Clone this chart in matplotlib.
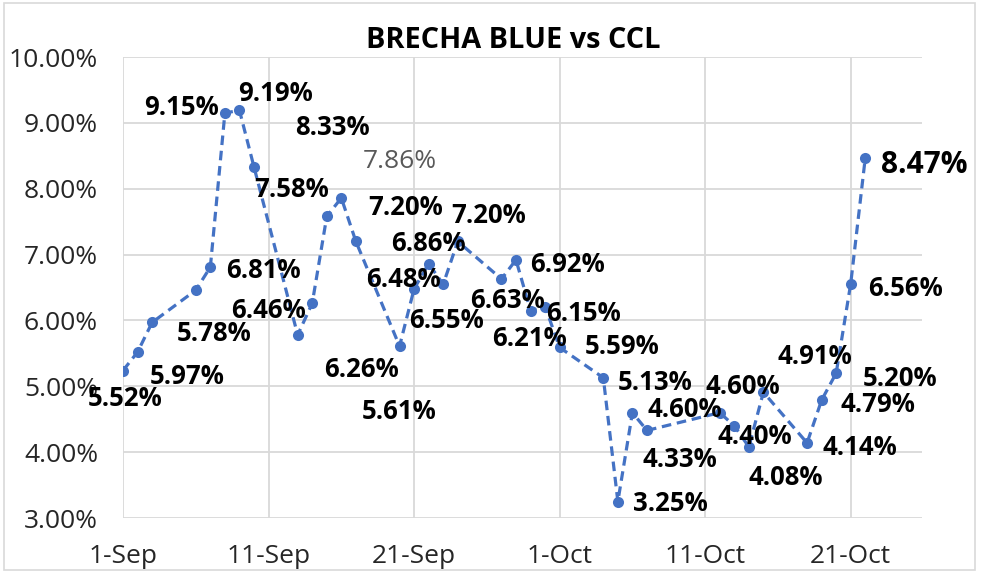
import matplotlib
matplotlib.use("Agg")
import matplotlib.pyplot as plt
import matplotlib.dates as mdates
from matplotlib.patches import Rectangle
import numpy as np

# data (2021)
dates = ["2021-09-01", "2021-09-02", "2021-09-03", "2021-09-06", "2021-09-07",
         "2021-09-08", "2021-09-09", "2021-09-10", "2021-09-13", "2021-09-14",
         "2021-09-15", "2021-09-16", "2021-09-17", "2021-09-20", "2021-09-21",
         "2021-09-22", "2021-09-23", "2021-09-24", "2021-09-27", "2021-09-28",
         "2021-09-29", "2021-09-30", "2021-10-01", "2021-10-04", "2021-10-05",
         "2021-10-06", "2021-10-07", "2021-10-12", "2021-10-13", "2021-10-14",
         "2021-10-15", "2021-10-18", "2021-10-19", "2021-10-20", "2021-10-21",
         "2021-10-22"]
brecha = [5.24, 5.52, 5.97, 6.46, 6.81, 9.15, 9.19, 8.33, 5.78, 6.26,
          7.58, 7.86, 7.20, 5.61, 6.48, 6.86, 6.55, 7.20, 6.63, 6.92,
          6.15, 6.21, 5.59, 5.13, 3.25, 4.60, 4.33, 4.60, 4.40, 4.08,
          4.91, 4.14, 4.79, 5.20, 6.56, 8.47]
labels = ["", "5.52%", "5.97%", "6.46%", "6.81%", "9.15%", "9.19%", "8.33%",
          "5.78%", "6.26%", "7.58%", "7.86%", "7.20%", "5.61%", "6.48%",
          "6.86%", "6.55%", "7.20%", "6.63%", "6.92%", "6.15%", "6.21%",
          "5.59%", "5.13%", "3.25%", "4.60%", "4.33%", "4.60%", "4.40%",
          "4.08%", "4.91%", "4.14%", "4.79%", "5.20%", "6.56%", "8.47%"]

# where each data label sits relative to its point (pixels)
label_offsets = [(0, 0), (-12, -43), (35, -51), (73, -17), (53, 0), (-43, 9),
                 (36, 20), (78, 43), (-84, 4), (49, -63), (-35, 30), (58, 39),
                 (50, 37), (0, -62), (-11, 12), (0, 23), (3, -33), (31, 29),
                 (6, -19), (52, -2), (53, 0), (-16, -29), (62, 4), (52, -2),
                 (53, 1), (52, 6), (33, -26), (23, 29), (21, -8), (37, -28),
                 (51, 39), (53, -2), (56, -1), (64, -2), (55, -2), (59, -4)]

x = mdates.datestr2num(dates)

fig = plt.figure(figsize=(9.81, 5.75), dpi=100)
ax = fig.add_axes([0.1254, 0.0991, 0.8145, 0.8017])

# chart border
fig.patches.append(Rectangle((0.004, 0.008), 0.990, 0.986, transform=fig.transFigure,
                             fill=False, edgecolor="#d9d9d9", linewidth=1.2))

ax.plot(x, brecha, color="#4472c4", linestyle=(0, (3, 1.8)), linewidth=2.3,
        marker="o", markersize=8, markeredgewidth=0)

for xi, yi, lab, (dx, dy) in zip(x, brecha, labels, label_offsets):
    if not lab:
        continue
    if lab == "7.86%":
        style = dict(fontsize=19, fontweight="normal", color="#595959")
    elif lab == "8.47%":
        style = dict(fontsize=21.5, fontweight="bold", color="black")
    else:
        style = dict(fontsize=18.5, fontweight="bold", color="black")
    ax.annotate(lab, (xi, yi), xytext=(dx, dy), textcoords="offset pixels",
                ha="center", va="center_baseline", family="Open Sans", **style)

ax.set_ylim(3, 10)
ax.set_yticks(np.arange(3, 10.01, 1))
ax.yaxis.set_major_formatter(plt.FuncFormatter(lambda v, p: f"{v:.2f}%"))

start = mdates.datestr2num("2021-09-01")
ax.set_xlim(start, start + 54.9)
ax.set_xticks(start + np.arange(0, 51, 10))
ax.xaxis.set_major_formatter(mdates.DateFormatter("%-d-%b"))

ax.grid(True, color="#d9d9d9", linewidth=1.3)
ax.set_axisbelow(True)
for s in ax.spines.values():
    s.set_visible(False)
ax.tick_params(length=0, labelsize=19, labelcolor="#262626")
ax.tick_params(axis="y", pad=18)
ax.tick_params(axis="x", pad=19)
for t in ax.get_xticklabels() + ax.get_yticklabels():
    t.set_family("Open Sans")

fig.text(0.523, 0.930, "BRECHA BLUE vs CCL", ha="center", va="center",
         fontsize=20.8, fontweight="bold", family="Open Sans", color="black")

fig.savefig("out.png", dpi=100)
